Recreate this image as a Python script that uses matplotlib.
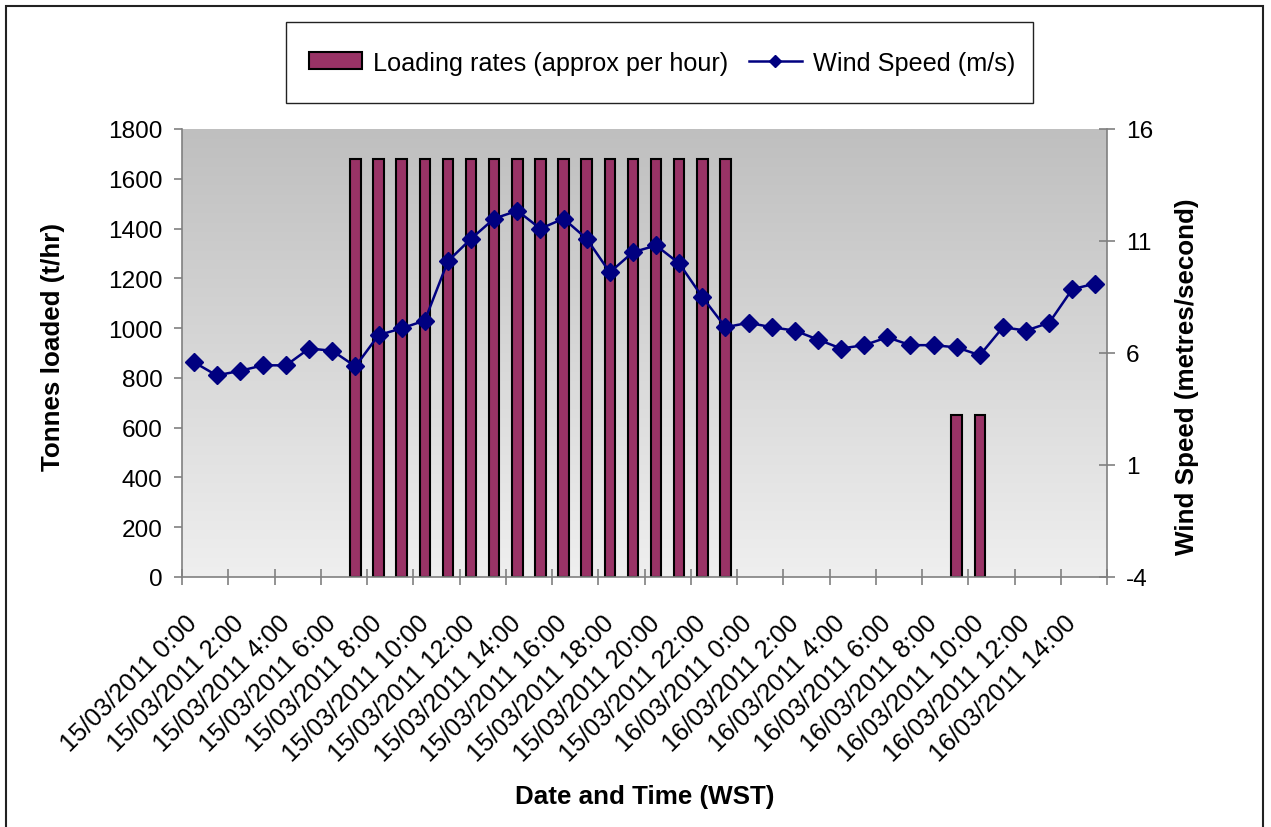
import numpy as np
import matplotlib
matplotlib.use('Agg')
import matplotlib.pyplot as plt
from matplotlib.patches import Rectangle, Patch
from matplotlib.lines import Line2D
from matplotlib.colors import LinearSegmentedColormap

# ---------------- data ----------------
hours = list(range(40))  # hourly categories 15/03/2011 0:00 .. 16/03/2011 15:00

tick_labels = [
    "15/03/2011 0:00", "15/03/2011 2:00", "15/03/2011 4:00", "15/03/2011 6:00",
    "15/03/2011 8:00", "15/03/2011 10:00", "15/03/2011 12:00", "15/03/2011 14:00",
    "15/03/2011 16:00", "15/03/2011 18:00", "15/03/2011 20:00", "15/03/2011 22:00",
    "16/03/2011 0:00", "16/03/2011 2:00", "16/03/2011 4:00", "16/03/2011 6:00",
    "16/03/2011 8:00", "16/03/2011 10:00", "16/03/2011 12:00", "16/03/2011 14:00",
]

loading = [0, 0, 0, 0, 0, 0, 0, 1680, 1680, 1680,
           1680, 1680, 1680, 1680, 1680, 1680, 1680, 1680, 1680, 1680,
           1680, 1680, 1680, 1680, 0, 0, 0, 0, 0, 0,
           0, 0, 0, 650, 650, 0, 0, 0, 0, 0]

wind = [5.6, 5.0, 5.2, 5.45, 5.45, 6.2, 6.1, 5.4, 6.8, 7.1,
        7.45, 10.1, 11.1, 12.0, 12.35, 11.55, 12.0, 11.1, 9.6, 10.5,
        10.8, 10.0, 8.5, 7.15, 7.35, 7.15, 7.0, 6.6, 6.2, 6.35,
        6.7, 6.35, 6.35, 6.25, 5.9, 7.15, 7.0, 7.35, 8.85, 9.1]

left_ticks = [0, 200, 400, 600, 800, 1000, 1200, 1400, 1600, 1800]
right_ticks = [-4, 1, 6, 11, 16]

bar_label = "Loading rates (approx per hour)"
line_label = "Wind Speed (m/s)"

# ---------------- style ----------------
plt.rcParams['font.family'] = ['Liberation Sans', 'DejaVu Sans']
W, H = 1271, 828
BAR_COLOR = '#993366'
LINE_COLOR = '#000080'
AXIS_GRAY = '#808080'
TICK_FS = 17.6
XTICK_FS = 18.3
TITLE_FS = 18.7

fig = plt.figure(figsize=(W / 100, H / 100), dpi=100)
L, R, T, B = 182, 1107, 130, 578
ax = fig.add_axes([L / W, 1 - B / H, (R - L) / W, (B - T) / H])

# gradient background
cmap = LinearSegmentedColormap.from_list('bg', ['#bfbfbf', '#efefef'])
ax.imshow(np.linspace(0, 1, 256).reshape(-1, 1), cmap=cmap, aspect='auto',
          extent=[0, 1, 0, 1], transform=ax.transAxes, zorder=0)

# bars
bx = [h for h, v in zip(hours, loading) if v > 0]
bh = [v for v in loading if v > 0]
ax.bar(bx, bh, width=0.45, color=BAR_COLOR, edgecolor='black', linewidth=1.5, zorder=2)

ax.set_xlim(-0.5, len(hours) - 0.5)
ax.set_ylim(0, 1800)
ax.set_yticks(left_ticks)
ax.set_yticklabels([str(t) for t in left_ticks], fontsize=TICK_FS)

ax.set_xticks(hours[::2])
ax.set_xticklabels(tick_labels, rotation=45, ha='right', va='center',
                   rotation_mode='anchor', fontsize=XTICK_FS)
ax.set_xticks(np.arange(-0.5, len(hours), 2), minor=True)
ax.tick_params(axis='x', which='major', length=0, pad=30)
ax.tick_params(axis='x', which='minor', length=11.5, direction='inout',
               color=AXIS_GRAY, width=1.2)
ax.tick_params(axis='y', which='major', length=6, direction='out',
               color=AXIS_GRAY, width=1.2, pad=8)

for s in ['top', 'right']:
    ax.spines[s].set_visible(False)
for s in ['left', 'bottom']:
    ax.spines[s].set_color(AXIS_GRAY)
    ax.spines[s].set_linewidth(1.2)

# wind line on secondary axis
ax2 = ax.twinx()
ax2.plot(hours, wind, color=LINE_COLOR, lw=1.8, marker='D', ms=9,
         mfc=LINE_COLOR, mec=LINE_COLOR, zorder=3)
ax2.set_ylim(-4, 16)
ax2.set_yticks(right_ticks)
ax2.set_yticklabels([str(t) for t in right_ticks], fontsize=TICK_FS)
ax2.tick_params(axis='y', length=11.5, direction='inout', color=AXIS_GRAY,
                width=1.2, pad=8)
for s in ['top', 'left', 'bottom']:
    ax2.spines[s].set_visible(False)
ax2.spines['right'].set_color(AXIS_GRAY)
ax2.spines['right'].set_linewidth(1.2)

# axis titles
fig.text(53 / W, 1 - 347.5 / H, "Tonnes loaded (t/hr)", rotation=90,
         ha='center', va='center', fontsize=TITLE_FS, fontweight='bold')
fig.text(1187 / W, 1 - 377 / H, "Wind Speed (metres/second)", rotation=90,
         ha='center', va='center', fontsize=TITLE_FS, fontweight='bold')
fig.text(645 / W, 1 - 797 / H, "Date and Time (WST)",
         ha='center', va='center', fontsize=TITLE_FS, fontweight='bold')

# legend
handles = [Patch(facecolor=BAR_COLOR, edgecolor='black', linewidth=1.5),
           Line2D([], [], color=LINE_COLOR, lw=1.8, marker='D', ms=6,
                  mfc=LINE_COLOR, mec=LINE_COLOR)]
fig.legend(handles, [bar_label, line_label], loc='center',
           bbox_to_anchor=(662 / W, 1 - 63.5 / H), ncol=2, frameon=False,
           fontsize=18.2, handlelength=2.1, handletextpad=0.45,
           columnspacing=0.8, handleheight=0.62)
fig.add_artist(Rectangle((286 / W, 1 - 104 / H), (1033 - 286) / W, 81 / H,
                         transform=fig.transFigure, fill=False,
                         edgecolor='#222222', linewidth=1.0))

# outer chart border
fig.add_artist(Rectangle((6 / W, -0.02), (1263 - 6) / W, (828 - 7) / H + 0.02,
                         transform=fig.transFigure, fill=False,
                         edgecolor='#222222', linewidth=1.5))

fig.savefig('out.png', dpi=100)
